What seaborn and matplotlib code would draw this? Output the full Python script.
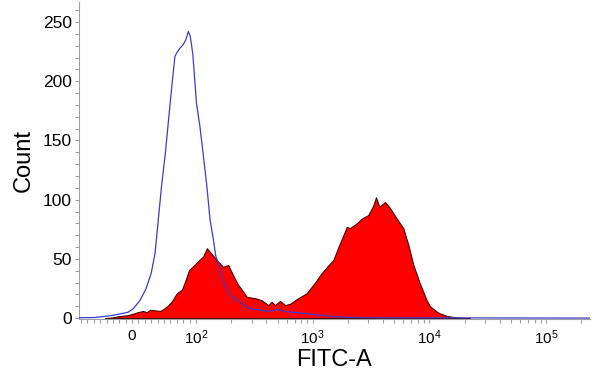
import matplotlib
matplotlib.use('Agg')
import matplotlib.pyplot as plt
import numpy as np
import pandas as pd
import seaborn as sns
from matplotlib.ticker import FixedLocator, MultipleLocator

# Control (unstained) histogram, blue outline
control_fitc = [-83, -58, -34, -19, -6, 2, 12.5, 22, 30, 36, 41, 46, 52, 57, 62, 67, 70,
                75, 80, 84, 88, 91, 95, 101, 108, 115, 124, 132, 141, 148, 155, 166, 183,
                202, 230, 272, 310, 354, 406, 448, 504, 556, 639, 778, 948, 1156, 1553,
                2089, 3770, 237800]
control_count = [0.3, 0.5, 2, 3.5, 5, 8, 15, 25, 38, 55, 83, 111, 139, 167, 195, 221, 224,
                 228, 231, 235, 242, 238, 223, 181, 162, 139, 111, 83, 66, 52, 47, 35, 24,
                 18, 15, 9, 7.3, 7, 5.5, 6, 7.5, 6, 5, 4.5, 3.5, 2.5, 1.2,
                 0.6, 0.3, 0]

# Stained sample histogram, red fill
sample_fitc = [-42, -31, -22, -6, 3, 9, 17, 23, 28, 36, 44, 50, 55, 62, 70, 78, 83, 89,
               97, 104, 115, 124, 135, 150, 171, 189, 199, 216, 230, 254, 272, 310, 331,
               365, 417, 445, 475, 525, 579, 639, 729, 889, 1047, 1194, 1362, 1503, 1660,
               1833, 1959, 2089, 2385, 2630, 2995, 3305, 3486, 3720, 4170, 4590, 5250,
               5970, 6590, 7280, 8300, 9480, 10100, 11550, 12300, 14070, 15900, 18300,
               22280]
sample_count = [0, 0.5, 1.5, 2.5, 4, 5, 6, 5, 7, 6.5, 6, 8, 10, 14, 21, 24, 31, 40.5,
                44.5, 48, 52, 59, 54.6, 49, 43.3, 44.8, 40, 33, 28, 22.3, 18, 17, 16.5,
                15, 11, 13.8, 11, 14.5, 11, 12, 16, 21, 30, 38, 44.5, 49, 60,
                70, 77, 76, 80, 84, 87, 95, 102, 94, 98, 93, 84,
                76, 62, 45, 29, 15, 10, 5.5, 4, 1.8, 1, 0.3,
                0]

major_ticks = [0, 100, 1000, 10000, 100000]
major_labels = ['0', r'$\mathdefault{10^{2}}$', r'$\mathdefault{10^{3}}$',
                r'$\mathdefault{10^{4}}$', r'$\mathdefault{10^{5}}$']

sns.set_style('ticks')
plt.rcParams['font.family'] = ['Liberation Sans', 'DejaVu Sans']
plt.rcParams['mathtext.fontset'] = 'custom'
plt.rcParams['mathtext.rm'] = 'Liberation Sans'

control = pd.DataFrame({'fitc': control_fitc, 'count': control_count})
sample = pd.DataFrame({'fitc': sample_fitc, 'count': sample_count})

fig = plt.figure(figsize=(6, 3.83), dpi=100)
ax = fig.add_axes([0.1317, 0.167, 0.8516, 0.828])

ax.fill_between(sample['fitc'], 0, sample['count'], facecolor='#ff0000',
                edgecolor='#4a0000', linewidth=0.8, zorder=2)
sns.lineplot(data=control, x='fitc', y='count', ax=ax, color='#3c3cc8',
             linewidth=0.9, sort=False, zorder=3)

ax.set_xscale('symlog', linthresh=100, linscale=0.493)
ax.set_xlim(-83, 237800)
ax.set_ylim(-0.8, 267)

minor = [m for m in np.arange(-80, 100, 10) if m != 0]
for dec in [100, 1000, 10000, 100000]:
    minor += [dec * k for k in range(2, 10)]
minor = [m for m in minor if m < 237800]
ax.set_xticks(major_ticks, major_labels)
ax.xaxis.set_minor_locator(FixedLocator(minor))
ax.yaxis.set_major_locator(MultipleLocator(50))
ax.yaxis.set_minor_locator(MultipleLocator(10))

ax.tick_params(axis='both', which='both', direction='out', length=3, width=0.8,
               color='#a0a0a0', labelcolor='black')
ax.tick_params(axis='y', labelsize=12.5, pad=2)
ax.tick_params(axis='x', labelsize=11, pad=4)

for side in ['top', 'right']:
    ax.spines[side].set_visible(False)
for side in ['left', 'bottom']:
    ax.spines[side].set_color('#a0a0a0')
    ax.spines[side].set_linewidth(0.8)

ax.set_xlabel('FITC-A', fontsize=17, labelpad=1, color='black')
ax.set_ylabel('Count', fontsize=17, labelpad=6, color='black')

fig.savefig('out.png', dpi=100)
